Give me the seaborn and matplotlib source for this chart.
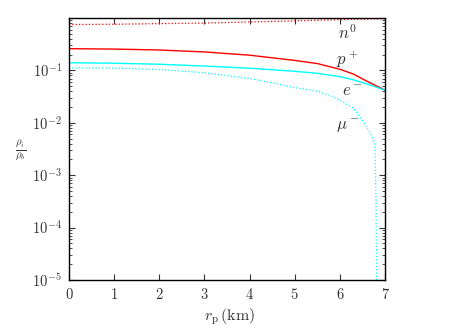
import numpy as np
import pandas as pd
import matplotlib
matplotlib.use("Agg")
import matplotlib.pyplot as plt
import seaborn as sns
from matplotlib.ticker import LogLocator, NullFormatter

# radial coordinate (km)
r_n = [0, 1, 2, 3, 4, 5, 6, 7]
n0 = [0.75, 0.76, 0.78, 0.80, 0.84, 0.88, 0.93, 0.97]

r_p = [0, 1, 2, 3, 4, 5, 5.5, 6, 6.3, 6.6, 7]
p_plus = [0.26, 0.255, 0.245, 0.225, 0.195, 0.155, 0.135, 0.105, 0.085, 0.062, 0.042]

r_e = [0, 1, 2, 3, 4, 5, 5.5, 6, 6.3, 6.6, 7]
e_minus = [0.14, 0.137, 0.131, 0.121, 0.11, 0.096, 0.088, 0.076, 0.066, 0.055, 0.042]

r_mu = [0, 1, 2, 3, 4, 4.5, 5, 5.5, 5.8, 6.0, 6.3, 6.5, 6.7, 6.78, 6.8, 6.82]
mu_minus = [0.112, 0.11, 0.104, 0.09, 0.07, 0.058, 0.047, 0.04, 0.033, 0.027,
            0.019, 0.011, 0.0058, 0.0036, 0.0003, 1e-6]

sns.set_style("ticks")
plt.rcParams['font.family'] = ['cmr10', 'DejaVu Sans']
plt.rcParams['mathtext.fontset'] = 'cm'
plt.rcParams['axes.formatter.use_mathtext'] = True

fig = plt.figure(figsize=(4.6, 3.27), dpi=100)
ax = fig.add_axes([0.15, 0.1437, 0.687, 0.8013])

sns.lineplot(x=r_n, y=n0, ax=ax, color='#ff0000', lw=0.9, ls=':')
sns.lineplot(x=r_p, y=p_plus, ax=ax, color='#ff0000', lw=1.0)
sns.lineplot(x=r_e, y=e_minus, ax=ax, color='#00ffff', lw=1.0)
sns.lineplot(x=r_mu, y=mu_minus, ax=ax, color='#00ffff', lw=0.9, ls=':')

ax.set_yscale('log')
ax.set_xlim(0, 7)
ax.set_ylim(1e-5, 1)
ax.set_xticks(range(8))
ax.yaxis.set_minor_locator(LogLocator(base=10, subs=np.arange(2, 10), numticks=50))
ax.yaxis.set_minor_formatter(NullFormatter())
ax.set_yticks([1e-5, 1e-4, 1e-3, 1e-2, 1e-1])
ax.tick_params(which='both', direction='in', top=True, right=True, labelsize=10.5,
               colors='#333333', pad=5)
ax.tick_params(which='major', length=4, width=0.8)
ax.tick_params(which='minor', length=2, width=0.6)
for sp in ax.spines.values():
    sp.set_linewidth(1.0)
    sp.set_color('black')
    sp.set_visible(True)

ax.set_xlabel('')
fig.text(0.5, 0.03, r'$r_{\mathrm{p}}\,(\mathrm{km})$', fontsize=11.5, color='#333333',
         ha='center', va='center')
fig.text(0.045, 0.54, r'$\frac{\rho_i}{\rho_b}$', fontsize=11, ha='center', va='center', color='#333333')

ax.text(6.17, 0.53, r'$n^0$', fontsize=12, color='#333333', ha='center', va='center')
ax.text(6.17, 0.16, r'$p^+$', fontsize=12, color='#333333', ha='center', va='center')
ax.text(6.27, 0.040, r'$e^-$', fontsize=12, color='#333333', ha='center', va='center')
ax.text(6.17, 0.0085, r'$\mu^-$', fontsize=12, color='#333333', ha='center', va='center')

fig.savefig('out.png', dpi=100)
